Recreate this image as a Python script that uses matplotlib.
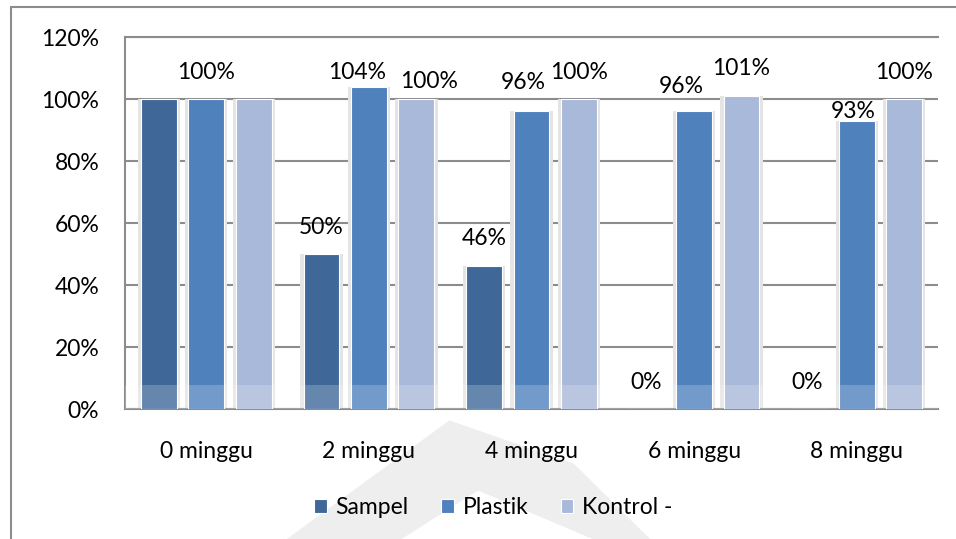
import numpy as np
import matplotlib
matplotlib.use("Agg")
import matplotlib.pyplot as plt
from matplotlib.patches import Rectangle, Polygon

plt.rcParams["font.family"] = ["Lato", "DejaVu Sans"]

# ── data ──────────────────────────────────────────────────────────────────
categories = ["0 minggu", "2 minggu", "4 minggu", "6 minggu", "8 minggu"]
series = ["Sampel", "Plastik", "Kontrol -"]
sampel = [100, 50, 46, 0, 0]
plastik = [100, 104, 96, 96, 93]
kontrol = [100, 100, 100, 101, 100]
colors = ["#3F6899", "#4F81BD", "#A9B9D9"]

# which labels Excel showed (group 0 only kept one)
show_label = [
    [False, True, True, True, True],
    [True, True, True, True, True],
    [False, True, True, True, True],
]
# label nudges (x in category units, y in percent points)
label_dx = [
    [0, 0, 0, 0, -0.015],
    [0, -0.074, -0.05, -0.08, -0.02],
    [0, 0.08, 0, 0, 0],
]
label_dy = [
    [0, 8.7, 9, 8.4, 8.4],
    [8.4, 4.7, 9.2, 7.9, 3.1],
    [0, 5.8, 8.7, 8.7, 8.7],
]

FS = 16.5

fig = plt.figure(figsize=(9.56, 5.39), dpi=100)
fig.patch.set_facecolor("white")

# outer chart frame
fig.add_artist(Rectangle((11 / 956, -0.05), 1.0, (539 - 7) / 539 + 0.05,
                         transform=fig.transFigure, fill=False,
                         edgecolor="#8c8c8c", lw=1.5))

# faint watermark shapes
fig.add_artist(Polygon([(0.30, 0.0), (0.47, 0.22), (0.60, 0.14), (0.68, 0.0),
                        (0.62, 0.0), (0.50, 0.09), (0.42, 0.0)], closed=True,
                       transform=fig.transFigure, facecolor="#eeeeee",
                       edgecolor="none", zorder=0))

ax = fig.add_axes([125 / 956, 130 / 539, (938 - 125) / 956, (409 - 37) / 539])
ax.set_facecolor("none")

x = np.arange(len(categories))
offset = 0.292
width = 0.22
all_vals = [sampel, plastik, kontrol]

for i, (vals, c) in enumerate(zip(all_vals, colors)):
    pos = x + (i - 1) * offset
    # soft shadow behind each bar
    ax.bar(pos, vals, width=width + 0.04, color="#e4e4e4", zorder=2)
    ax.bar(pos, vals, width=width, color=c, edgecolor="white", lw=0.8,
           zorder=3, label=series[i])
    for j, v in enumerate(vals):
        if show_label[i][j]:
            ax.text(pos[j] + label_dx[i][j], v + label_dy[i][j], f"{v}%",
                    ha="center", va="center", fontsize=FS, color="black",
                    zorder=5)

# watermark band lightening the bar bottoms
ax.axhspan(0, 7.7, color="white", alpha=0.2, zorder=4, lw=0)

ax.set_xlim(-0.5, len(categories) - 0.5)
ax.set_ylim(0, 120)
ax.set_yticks(np.arange(0, 121, 20))
ax.set_yticklabels([f"{t}%" for t in range(0, 121, 20)])
ax.set_xticks(x)
ax.set_xticklabels(categories)
ax.tick_params(axis="both", length=0, labelsize=FS)
ax.tick_params(axis="x", pad=23)
ax.tick_params(axis="y", pad=18.5)
ax.yaxis.grid(True, color="#8c8c8c", lw=1.5, zorder=1)
ax.set_axisbelow(True)

for side in ["top", "left", "bottom"]:
    ax.spines[side].set_color("#8c8c8c")
    ax.spines[side].set_linewidth(1.5)
ax.spines["right"].set_visible(False)

ax.legend(loc="center", bbox_to_anchor=(0.453, -0.265), ncol=3, frameon=False,
          fontsize=FS, handlelength=0.55, handleheight=0.55, handletextpad=0.4,
          columnspacing=1.4)

fig.savefig("out.png", dpi=100, facecolor="white")
